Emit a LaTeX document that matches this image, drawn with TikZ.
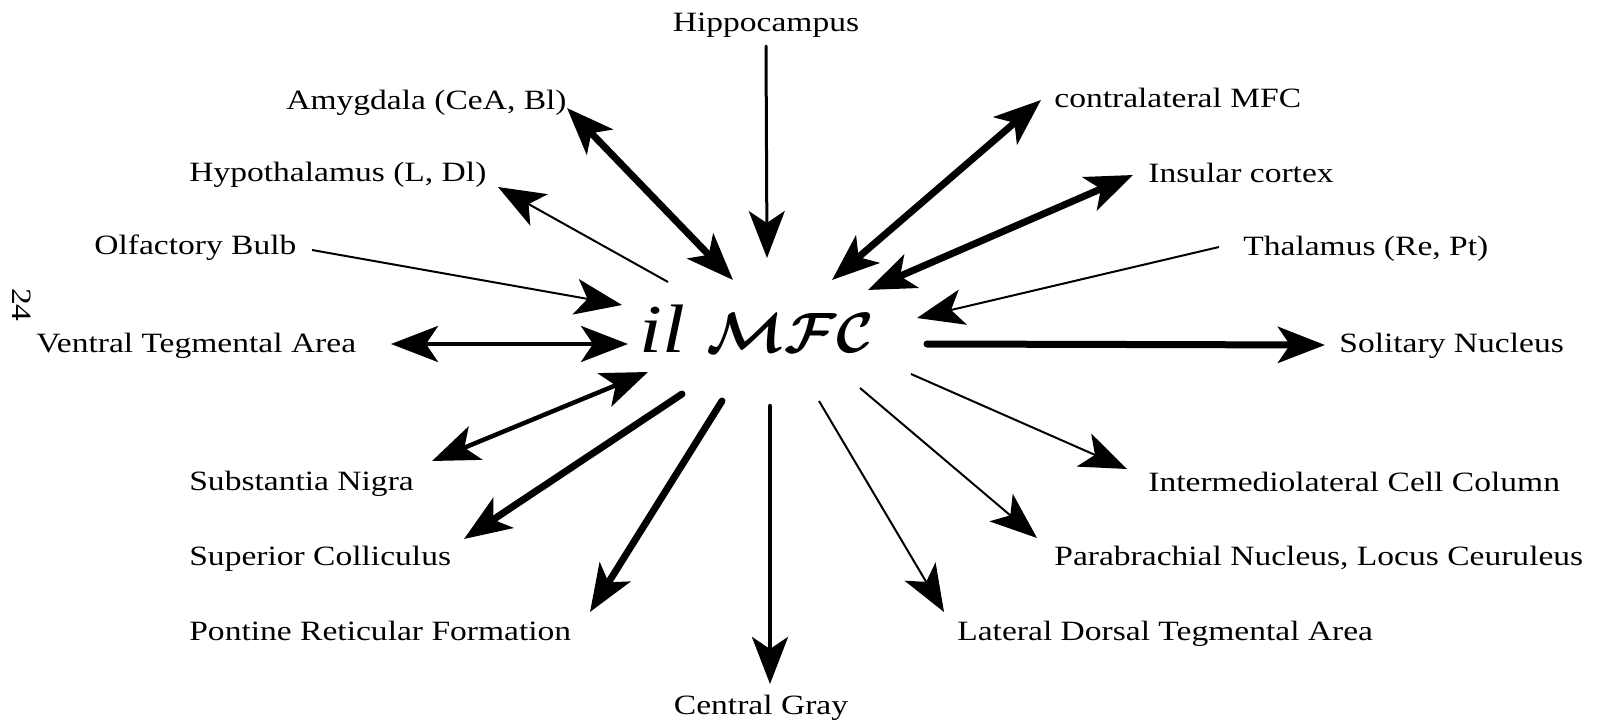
\documentclass[tikz,border=0pt]{standalone}
\usepackage{amsmath,amssymb,graphicx}
\usepackage{fontspec}
\setmainfont[FakeStretch=1.2]{Liberation Serif}
\usetikzlibrary{arrows.meta}
\newcommand{\mfcname}{{\fontsize{39}{42}\selectfont\itshape il\hspace{0.3em}\scalebox{1.3}{\boldmath$\mathcal{MFC}$}}}

\begin{document}
\begin{tikzpicture}[x=0.2mm, y=-0.2mm,
  >={Stealth[length=9.4mm, width=7.2mm, inset=2.4mm]},
  lbl/.style={inner sep=0pt, font=\fontsize{15.9}{18}\selectfont},
  fat/.style={line width=1.4mm, line cap=round},
  med/.style={line width=0.9mm, line cap=round},
  lean/.style={line width=0.4mm}]

  \useasboundingbox (0,0) rectangle (1600,723);

  % centre
  \node[inner sep=0pt, anchor=base] (mfc) at (757,353) {\mfcname};

  % page number
  \node[lbl, rotate=-90] (page) at (22,305) {24};

  % labels, left side
  \node[lbl, anchor=base] (hip) at (766,32) {Hippocampus};
  \node[lbl, anchor=base west] (amy) at (286,110) {Amygdala (CeA, Bl)};
  \node[lbl, anchor=base west] (hyp) at (189,182) {Hypothalamus (L, Dl)};
  \node[lbl, anchor=base west] (olf) at (94,255) {Olfactory Bulb};
  \node[lbl, anchor=base west] (vta) at (36,353) {Ventral Tegmental Area};
  \node[lbl, anchor=base west] (sn) at (189,490) {Substantia Nigra};
  \node[lbl, anchor=base west] (sc) at (189,565) {Superior Colliculus};
  \node[lbl, anchor=base west] (prf) at (189,640) {Pontine Reticular Formation};
  \node[lbl, anchor=base] (cg) at (761,714) {Central Gray};

  % labels, right side
  \node[lbl, anchor=base west] (ldt) at (957,640) {Lateral Dorsal Tegmental Area};
  \node[lbl, anchor=base west] (pbn) at (1054,565) {Parabrachial Nucleus, Locus Ceuruleus};
  \node[lbl, anchor=base west] (ilc) at (1148,491) {Intermediolateral Cell Column};
  \node[lbl, anchor=base west] (sol) at (1339,353) {Solitary Nucleus};
  \node[lbl, anchor=base west] (tha) at (1243,256) {Thalamus (Re, Pt)};
  \node[lbl, anchor=base west] (ins) at (1148,183) {Insular cortex};
  \node[lbl, anchor=base west] (con) at (1054,108) {contralateral MFC};

  % arrow ends
  \coordinate (hip1) at (766,46);   \coordinate (hip2) at (767,258);
  \coordinate (amy1) at (567,108);  \coordinate (amy2) at (733,280);
  \coordinate (hyp1) at (498,187);  \coordinate (hyp2) at (668,282);
  \coordinate (olf1) at (312,250);  \coordinate (olf2) at (622,305);
  \coordinate (vta1) at (391,344);  \coordinate (vta2) at (628,344);
  \coordinate (sn1) at (432,461);   \coordinate (sn2) at (648,372);
  \coordinate (sc1) at (464,539);   \coordinate (sc2) at (682,394);
  \coordinate (prf1) at (590,612);  \coordinate (prf2) at (722,401);
  \coordinate (cg1) at (770,684);   \coordinate (cg2) at (770,406);
  \coordinate (ldt1) at (944,612);  \coordinate (ldt2) at (819,401);
  \coordinate (pbn1) at (1037,538); \coordinate (pbn2) at (860,388);
  \coordinate (ilc1) at (1127,469); \coordinate (ilc2) at (911,374);
  \coordinate (sol1) at (1325,345); \coordinate (sol2) at (927,344);
  \coordinate (tha1) at (1219,247); \coordinate (tha2) at (917,318);
  \coordinate (ins1) at (1133,175); \coordinate (ins2) at (868,290);
  \coordinate (con1) at (1041,100); \coordinate (con2) at (832,280);

  % inputs
  \draw[med,->, line width=0.6mm] (hip1) -- (hip2);
  \draw[lean,->] (olf1) -- (olf2);
  \draw[lean,->] (tha1) -- (tha2);

  % both ways
  \draw[fat,<->] (amy1) -- (amy2);
  \draw[med,<->] (vta1) -- (vta2);
  \draw[med,<->] (sn1) -- (sn2);
  \draw[fat,<->] (con1) -- (con2);
  \draw[fat,<->] (ins1) -- (ins2);

  % outputs
  \draw[lean,->] (hyp2) -- (hyp1);
  \draw[fat,->] (sc2) -- (sc1);
  \draw[fat,->] (prf2) -- (prf1);
  \draw[med,->] (cg2) -- (cg1);
  \draw[lean,->] (ldt2) -- (ldt1);
  \draw[lean,->] (pbn2) -- (pbn1);
  \draw[lean,->] (ilc2) -- (ilc1);
  \draw[fat,->] (sol2) -- (sol1);
\end{tikzpicture}
\end{document}
